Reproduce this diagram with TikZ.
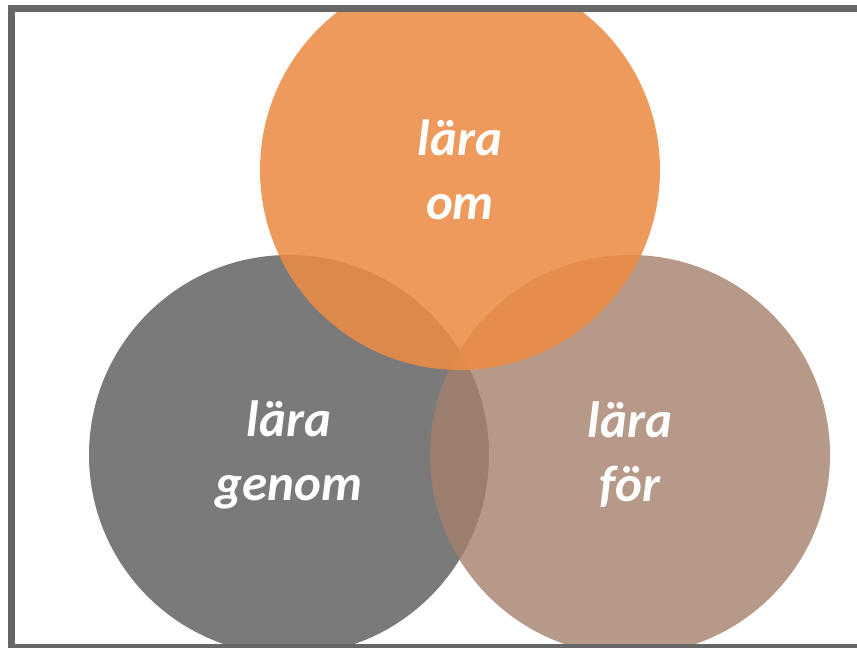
\documentclass[tikz,border=0pt]{standalone}
\usepackage{fontspec}
\setmainfont{Carlito}

\definecolor{laraom}{RGB}{236,140,70}
\definecolor{laragenom}{RGB}{122,122,122}
\definecolor{larafor}{RGB}{164,128,108}
\definecolor{frame}{RGB}{102,102,102}

\tikzset{venn/.style={circle,minimum size=4cm,inner sep=0pt,text=white,text opacity=1,
    align=center,font=\bfseries\itshape\fontsize{14.5}{18.2}\selectfont}}

\begin{document}
\begin{tikzpicture}
\useasboundingbox (0,0) rectangle (8.57,6.48);
\begin{scope}
   \clip (0.15,0.04) rectangle (8.57,6.36);
   \node[venn,fill=laragenom] (genom) at (2.89,1.93) {lära\\genom};
   \node[venn,fill=larafor,fill opacity=.8] (for) at (6.30,1.93) {lära\\för};
   \node[venn,fill=laraom,fill opacity=.88] (om) at (4.60,4.78) {lära\\om};
\end{scope}
\draw[frame,line width=.07cm] (0.115,0.005) rectangle (9,6.395);
\end{tikzpicture}
\end{document}
